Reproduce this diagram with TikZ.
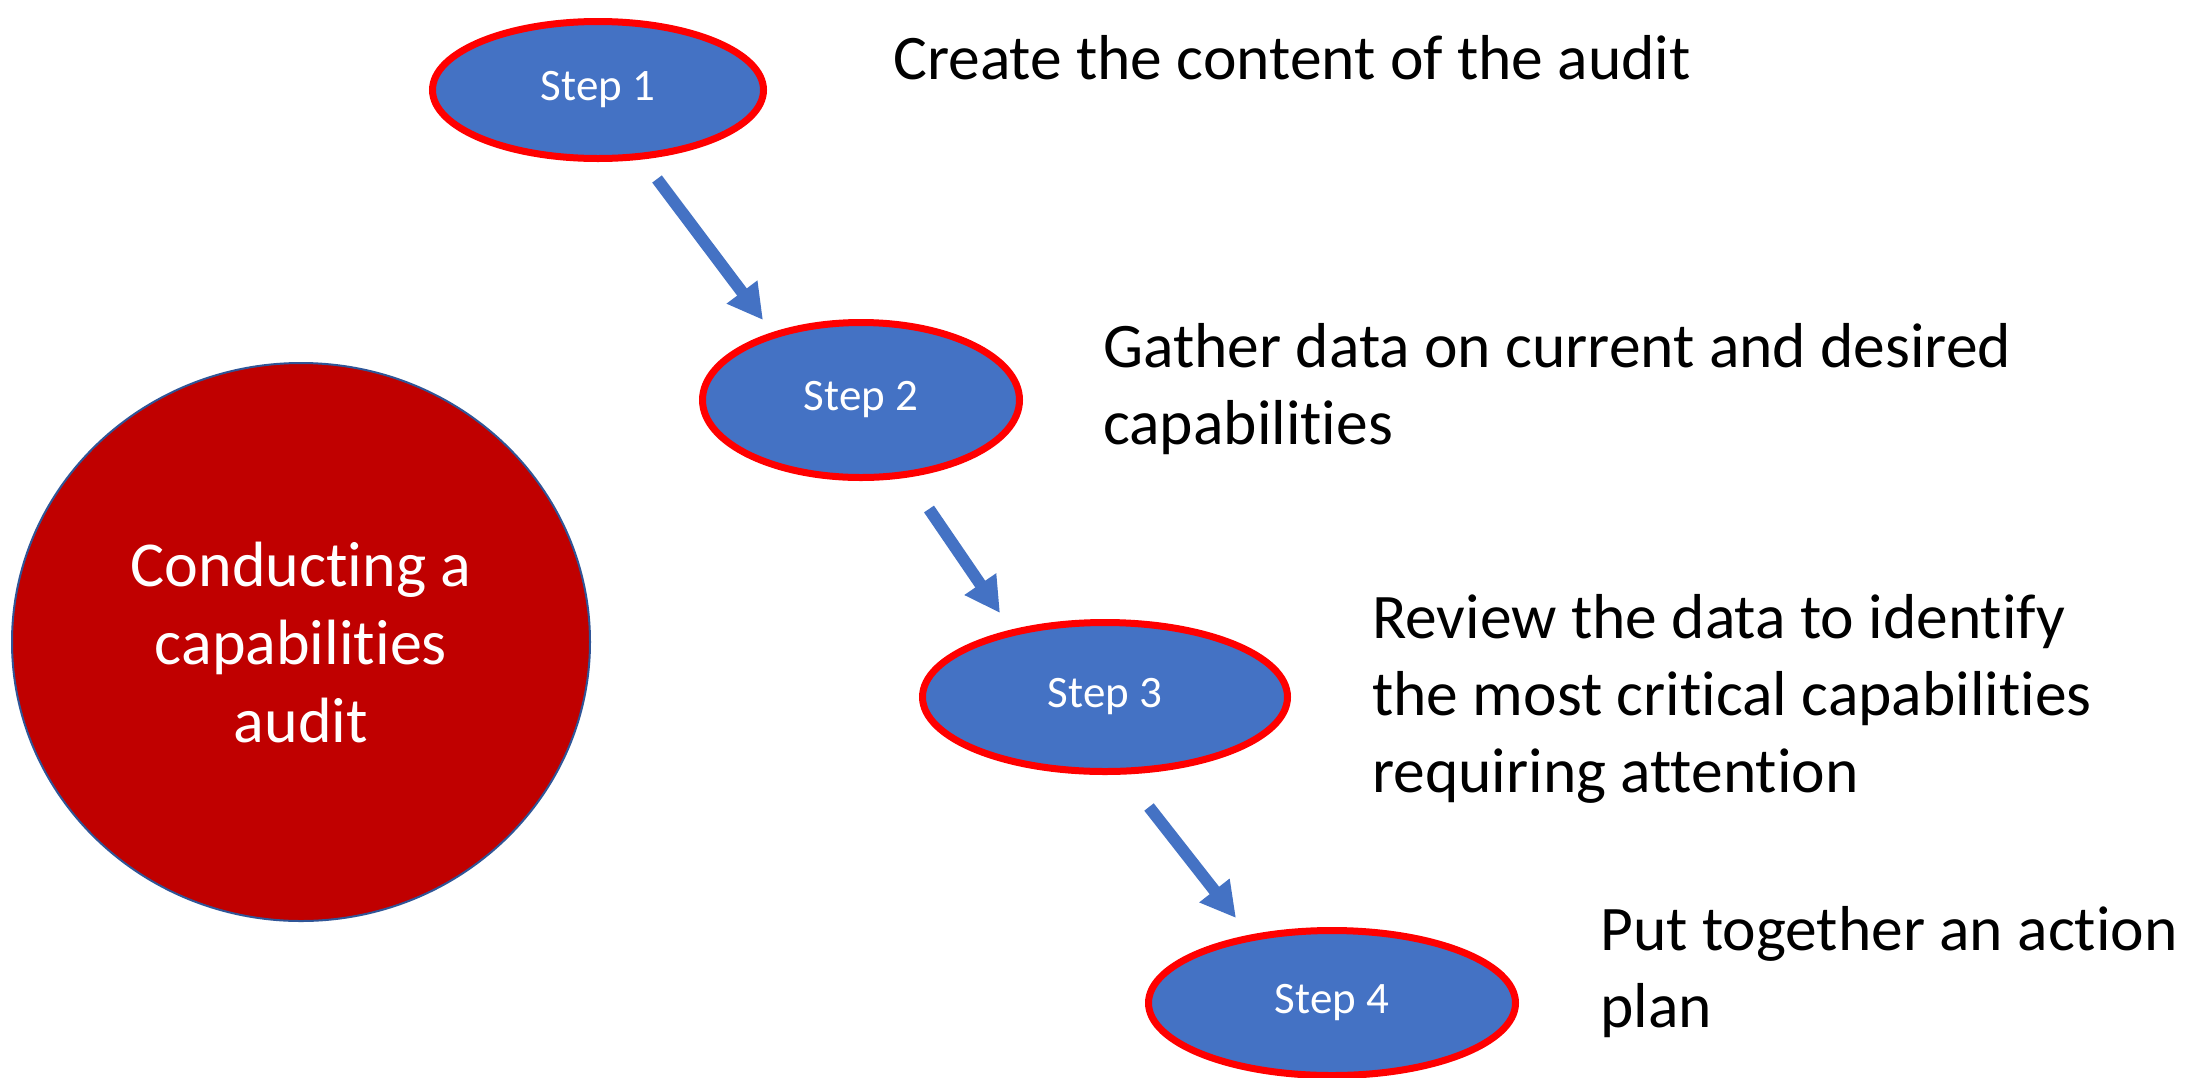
\documentclass[tikz,border=0pt]{standalone}
\usepackage{fontspec}
\setmainfont{Carlito}[RawFeature={-liga}]
\usetikzlibrary{shapes.geometric,arrows.meta}
\definecolor{stepblue}{HTML}{4472C4}
\definecolor{stepred}{HTML}{FF0000}
\definecolor{darkred}{HTML}{C00000}
\definecolor{rimblue}{HTML}{2F5597}
\tikzset{
  stepnode/.style={ellipse, fill=stepblue, draw=stepred, line width=7pt, inner sep=0pt,
    text=white, font=\fontsize{45}{54}\selectfont},
  bignode/.style={ellipse, fill=darkred, draw=rimblue, line width=2pt, inner sep=0pt},
  bigtext/.style={text=white, align=center, anchor=base, inner sep=0pt, font=\fontsize{64}{78}\selectfont},
  desc/.style={anchor=base west, align=left, inner sep=0pt, font=\fontsize{63.5}{77}\selectfont},
  flowarrow/.style={draw=stepblue, line width=12pt, -{Triangle[width=36pt,length=35pt]}, fill=stepblue}
}
\begin{document}
\begin{tikzpicture}[x=1pt,y=-1pt]
\useasboundingbox (0,0) rectangle (2203,1077);
\fill[white] (0,0) rectangle (2203,1077);

\node[bignode, minimum width=578pt, minimum height=558pt] (main) at (301,642) {};
\node[bigtext] (maintext) at (301,742) {Conducting a\\capabilities\\audit};

\node[stepnode, minimum width=331pt, minimum height=137pt] (s1) at (598,90) {Step 1};
\node[stepnode, minimum width=317pt, minimum height=155pt] (s2) at (861,400) {Step 2};
\node[stepnode, minimum width=365pt, minimum height=149pt] (s3) at (1105,697) {Step 3};
\node[stepnode, minimum width=367pt, minimum height=145pt] (s4) at (1332,1003) {Step 4};

\coordinate (a1s) at (657,179);
\coordinate (a1e) at (763,320);
\coordinate (a2s) at (929,509);
\coordinate (a2e) at (1000,613);
\coordinate (a3s) at (1149,807);
\coordinate (a3e) at (1236,918);
\draw[flowarrow] (a1s) -- (a1e);
\draw[flowarrow] (a2s) -- (a2e);
\draw[flowarrow] (a3s) -- (a3e);

\node[desc] (d1) at (893,79) {Create the content of the audit};
\node[desc] (d2) at (1103,444) {Gather data on current and desired\\capabilities};
\node[desc] (d3) at (1372,792) {Review the data to identify\\the most critical capabilities\\requiring attention};
\node[desc] (d4) at (1600,1027) {Put together an action\\plan};
\end{tikzpicture}
\end{document}
